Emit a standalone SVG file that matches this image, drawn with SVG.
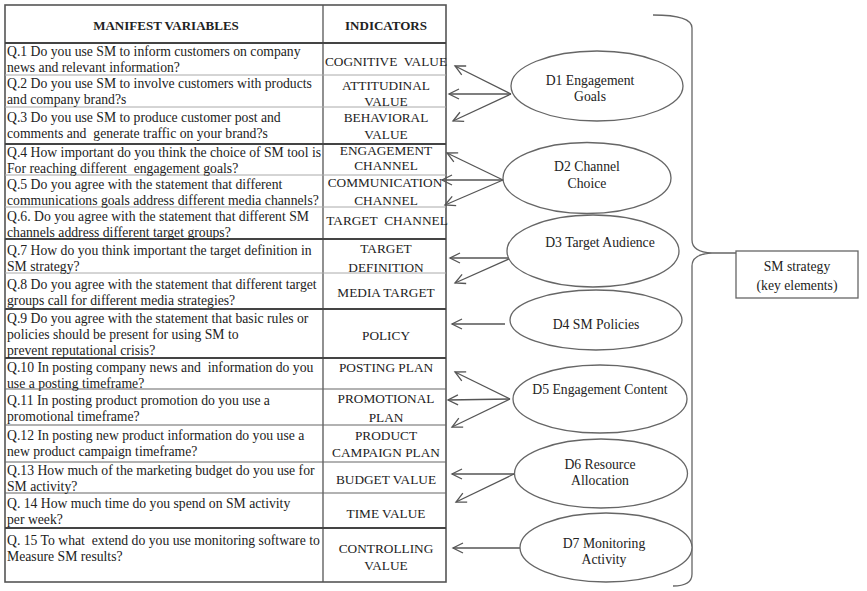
<svg xmlns="http://www.w3.org/2000/svg" width="867" height="591" viewBox="0 0 867 591">
<style>
  text { font-family: "Liberation Serif", "Times New Roman", serif; fill: #222; }
  .q { font-size: 13.7px; }
  .ind { font-size: 13.3px; text-anchor: middle; }
  .hdr { font-size: 13px; font-weight: bold; text-anchor: middle; }
  .lab { font-size: 13.7px; text-anchor: middle; }
  .thin { stroke: #aaa; stroke-width: 1; }
  .mid { stroke: #666; stroke-width: 1.2; }
  .thick { stroke: #444; stroke-width: 2; }
  .ell { fill: #fff; stroke: #666; stroke-width: 1.3; }
  .con { stroke: #555; stroke-width: 1.3; fill: none; marker-end: url(#ah); }
</style>
<defs>
  <marker id="ah" markerUnits="userSpaceOnUse" viewBox="0 0 14 14" markerWidth="14" markerHeight="14" refX="11" refY="7" orient="auto">
    <path d="M1,2 L11,7 L1,12" fill="none" stroke="#555" stroke-width="1.3"/>
  </marker>
</defs>
<rect width="867" height="591" fill="#fff"/>

<g id="table">
  <rect x="5" y="5" width="441" height="577" fill="#fff" stroke="#555" stroke-width="1.6"/>
  <line x1="323" y1="5" x2="323" y2="582" stroke="#555" stroke-width="1.3"/>
  <line class="thick" x1="5" y1="43" x2="446" y2="43"/>
  <line class="thin" x1="5" y1="75" x2="446" y2="75"/>
  <line class="thin" x1="5" y1="107" x2="446" y2="107"/>
  <line class="thick" x1="5" y1="144" x2="446" y2="144"/>
  <line class="thin" x1="5" y1="175" x2="446" y2="175"/>
  <line class="thin" x1="5" y1="207" x2="446" y2="207"/>
  <line class="thick" x1="5" y1="239" x2="446" y2="239"/>
  <line class="thin" x1="5" y1="273" x2="446" y2="273"/>
  <line class="thick" x1="5" y1="309" x2="446" y2="309"/>
  <line class="thick" x1="5" y1="358" x2="446" y2="358"/>
  <line class="mid" x1="5" y1="389" x2="446" y2="389"/>
  <line class="mid" x1="5" y1="425" x2="446" y2="425"/>
  <line class="mid" x1="5" y1="462" x2="446" y2="462"/>
  <line class="mid" x1="5" y1="493" x2="446" y2="493"/>
  <line class="thick" x1="5" y1="528" x2="446" y2="528"/>

  <text class="hdr" x="166" y="30">MANIFEST VARIABLES</text>
  <text class="hdr" x="386" y="30">INDICATORS</text>

  <text class="q" x="7" y="56">Q.1 Do you use SM to inform customers on company</text>
  <text class="q" x="7" y="71.5">news and relevant information?</text>
  <text class="q" x="7" y="88">Q.2 Do you use SM to involve customers with products</text>
  <text class="q" x="7" y="104">and company brand?s</text>
  <text class="q" x="7" y="122">Q.3 Do you use SM to produce customer post and</text>
  <text class="q" x="7" y="138">comments and&#160; generate traffic on your brand?s</text>
  <text class="q" x="7" y="157">Q.4 How important do you think the choice of SM tool is</text>
  <text class="q" x="7" y="173">For reaching different&#160; engagement goals?</text>
  <text class="q" x="7" y="189">Q.5 Do you agree with the statement that different</text>
  <text class="q" x="7" y="205">communications goals address different media channels?</text>
  <text class="q" x="7" y="221">Q.6. Do you agree with the statement that different SM</text>
  <text class="q" x="7" y="237">channels address different target groups?</text>
  <text class="q" x="7" y="255">Q.7 How do you think important the target definition in</text>
  <text class="q" x="7" y="271">SM strategy?</text>
  <text class="q" x="7" y="289">Q.8 Do you agree with the statement that different target</text>
  <text class="q" x="7" y="305">groups call for different media strategies?</text>
  <text class="q" x="7" y="323">Q.9 Do you agree with the statement that basic rules or</text>
  <text class="q" x="7" y="339">policies should be present for using SM to</text>
  <text class="q" x="7" y="355">prevent reputational crisis?</text>
  <text class="q" x="7" y="372">Q.10 In posting company news and&#160; information do you</text>
  <text class="q" x="7" y="388">use a posting timeframe?</text>
  <text class="q" x="7" y="405">Q.11 In posting product promotion do you use a</text>
  <text class="q" x="7" y="421">promotional timeframe?</text>
  <text class="q" x="7" y="440">Q.12 In posting new product information do you use a</text>
  <text class="q" x="7" y="456">new product campaign timeframe?</text>
  <text class="q" x="7" y="475">Q.13 How much of the marketing budget do you use for</text>
  <text class="q" x="7" y="491">SM activity?</text>
  <text class="q" x="7" y="508">Q. 14 How much time do you spend on SM activity</text>
  <text class="q" x="7" y="524">per week?</text>
  <text class="q" x="7" y="545">Q. 15 To what&#160; extend do you use monitoring software to</text>
  <text class="q" x="7" y="561">Measure SM results?</text>

  <text class="ind" x="386" y="66">COGNITIVE&#160; VALUE</text>
  <text class="ind" x="386" y="90">ATTITUDINAL</text>
  <text class="ind" x="386" y="106">VALUE</text>
  <text class="ind" x="386" y="122">BEHAVIORAL</text>
  <text class="ind" x="386" y="139">VALUE</text>
  <text class="ind" x="386" y="155">ENGAGEMENT</text>
  <text class="ind" x="386" y="170">CHANNEL</text>
  <text class="ind" x="385" y="187">COMMUNICATION</text>
  <text class="ind" x="386" y="205">CHANNEL</text>
  <text class="ind" x="387" y="225">TARGET&#160; CHANNEL</text>
  <text class="ind" x="386" y="253">TARGET</text>
  <text class="ind" x="386" y="272">DEFINITION</text>
  <text class="ind" x="386" y="297">MEDIA TARGET</text>
  <text class="ind" x="386" y="340">POLICY</text>
  <text class="ind" x="386" y="372">POSTING PLAN</text>
  <text class="ind" x="386" y="403">PROMOTIONAL</text>
  <text class="ind" x="386" y="422">PLAN</text>
  <text class="ind" x="386" y="440">PRODUCT</text>
  <text class="ind" x="386" y="457">CAMPAIGN PLAN</text>
  <text class="ind" x="386" y="484">BUDGET VALUE</text>
  <text class="ind" x="386" y="518">TIME VALUE</text>
  <text class="ind" x="386" y="553">CONTROLLING</text>
  <text class="ind" x="386" y="570">VALUE</text>
</g>

<g id="connectors">
  <line class="con" x1="511" y1="94" x2="455" y2="66"/>
  <line class="con" x1="511" y1="94" x2="449" y2="94"/>
  <line class="con" x1="511" y1="94" x2="453" y2="121"/>
  <line class="con" x1="503" y1="180" x2="447" y2="153"/>
  <line class="con" x1="503" y1="180" x2="442" y2="180"/>
  <line class="con" x1="503" y1="180" x2="445" y2="205"/>
  <line class="con" x1="511" y1="258" x2="450" y2="258"/>
  <line class="con" x1="511" y1="258" x2="455" y2="283"/>
  <line class="con" x1="505" y1="324" x2="452" y2="324"/>
  <line class="con" x1="510" y1="399" x2="455" y2="372"/>
  <line class="con" x1="510" y1="399" x2="448" y2="400"/>
  <line class="con" x1="510" y1="399" x2="452" y2="427"/>
  <line class="con" x1="514" y1="474" x2="452" y2="474"/>
  <line class="con" x1="514" y1="474" x2="456" y2="502"/>
  <line class="con" x1="520" y1="548" x2="453" y2="548"/>
  <path id="brace" d="M653,15 Q692,15 692,28 V240 Q692,252 712,253 L736,253 M712,253 Q692,254 692,266 V574 Q692,586 673,586" fill="none" stroke="#666" stroke-width="1.3"/>
</g>

<g id="d1">
  <ellipse class="ell" cx="597" cy="86" rx="86" ry="35"/>
  <text class="lab" x="590" y="85">D1 Engagement</text>
  <text class="lab" x="590" y="101">Goals</text>
</g>
<g id="d2">
  <ellipse class="ell" cx="587" cy="178" rx="84" ry="35.5"/>
  <text class="lab" x="587" y="171">D2 Channel</text>
  <text class="lab" x="587" y="188">Choice</text>
</g>
<g id="d3">
  <ellipse class="ell" cx="593" cy="251" rx="86" ry="36"/>
  <text class="lab" x="600" y="247">D3 Target Audience</text>
</g>
<g id="d4">
  <ellipse class="ell" cx="596" cy="320" rx="86" ry="30"/>
  <text class="lab" x="596" y="329">D4 SM Policies</text>
</g>
<g id="d5">
  <ellipse class="ell" cx="600" cy="399" rx="87" ry="34"/>
  <text class="lab" x="600" y="394">D5 Engagement Content</text>
</g>
<g id="d6">
  <ellipse class="ell" cx="601" cy="473.5" rx="86.5" ry="34.5"/>
  <text class="lab" x="600" y="469">D6 Resource</text>
  <text class="lab" x="600" y="485">Allocation</text>
</g>
<g id="d7">
  <ellipse class="ell" cx="606" cy="547.5" rx="86" ry="34.5"/>
  <text class="lab" x="604" y="548">D7 Monitoring</text>
  <text class="lab" x="604" y="564">Activity</text>
</g>
<g id="sm">
  <rect x="736" y="251" width="122" height="47" fill="#fff" stroke="#666" stroke-width="1.3"/>
  <text class="lab" x="797" y="271">SM strategy</text>
  <text class="lab" x="797" y="290">(key elements)</text>
</g>
</svg>
